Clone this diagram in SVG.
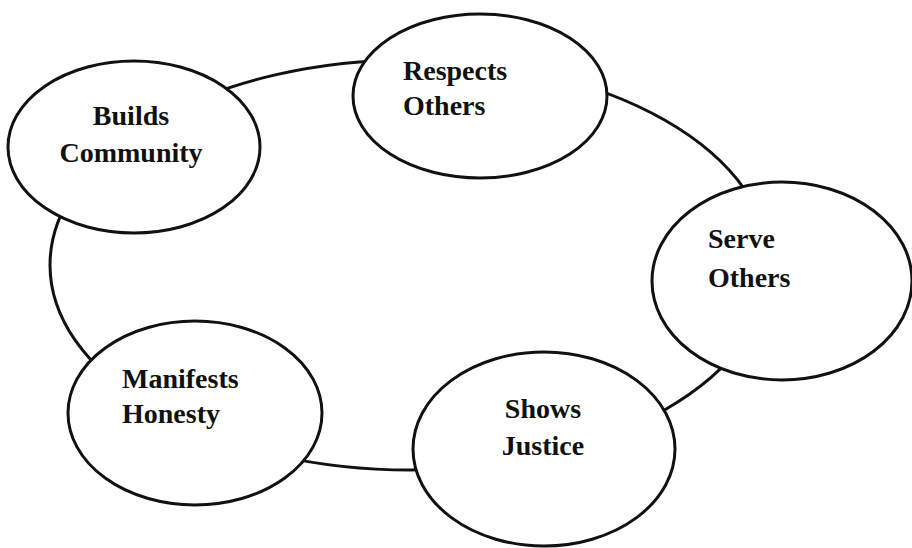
<svg xmlns="http://www.w3.org/2000/svg" width="912" height="548" viewBox="0 0 912 548">
<style>
.ring{fill:none;stroke:#111;stroke-width:3}
.node ellipse{fill:#fff;stroke:#111;stroke-width:3}
.node text{font-family:"Liberation Serif","Times New Roman",serif;font-weight:bold;font-size:28px;fill:#111}
</style>
<rect width="912" height="548" fill="#fff"/>
<g id="connectors">
<ellipse class="ring" cx="410" cy="265" rx="360" ry="205"/>
</g>
<g id="builds-community" class="node">
<ellipse cx="134" cy="147" rx="126" ry="86"/>
<text x="131" y="125" text-anchor="middle">Builds</text>
<text x="131" y="162" text-anchor="middle">Community</text>
</g>
<g id="respects-others" class="node">
<ellipse cx="480" cy="96" rx="127" ry="82"/>
<text x="403" y="80">Respects</text>
<text x="403" y="115">Others</text>
</g>
<g id="serve-others" class="node">
<ellipse cx="782" cy="281" rx="130" ry="99"/>
<text x="708" y="248">Serve</text>
<text x="708" y="287">Others</text>
</g>
<g id="shows-justice" class="node">
<ellipse cx="544" cy="449" rx="131" ry="97"/>
<text x="543" y="418" text-anchor="middle">Shows</text>
<text x="543" y="455" text-anchor="middle">Justice</text>
</g>
<g id="manifests-honesty" class="node">
<ellipse cx="195" cy="413" rx="127" ry="92"/>
<text x="122" y="388">Manifests</text>
<text x="122" y="423">Honesty</text>
</g>
</svg>
